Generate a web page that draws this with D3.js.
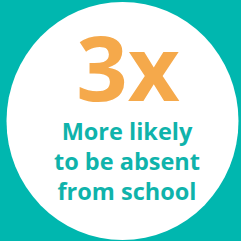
<!DOCTYPE html>
<meta charset="utf-8">
<style>
body { margin: 0; background-color: #00b7af; }
svg { display: block; }
.stat { font: bold 90px "Open Sans", sans-serif; fill: #f5a94b; }
.caption { font: bold 23.5px "Open Sans", sans-serif; fill: #0fb3ab; }
</style>
<body>
<script src="https://d3js.org/d3.v7.min.js"></script>
<script>
  // the figure and the lines under it
  var statValues = ["3x"];
  var captionLines = ["More likely", "to be absent", "from school"];

  var width = 241, height = 241;

  var svg = d3.select("body").append("svg")
      .attr("width", width)
      .attr("height", height);

  // teal backdrop
  svg.append("rect")
      .attr("width", width)
      .attr("height", height)
      .attr("fill", "#00b7af");

  // white disc
  svg.append("ellipse")
      .attr("cx", 122.5)
      .attr("cy", 121)
      .attr("rx", 116)
      .attr("ry", 119)
      .attr("fill", "#ffffff");

  // big number
  svg.selectAll(".stat")
      .data(statValues)
    .enter().append("text")
      .attr("class", "stat")
      .attr("x", 128)
      .attr("y", 101)
      .attr("text-anchor", "middle")
      .text(function(d) { return d; });

  // baselines of the caption lines
  var y = d3.scalePoint()
      .domain(captionLines)
      .range([140, 200]);

  svg.selectAll(".caption")
      .data(captionLines)
    .enter().append("text")
      .attr("class", "caption")
      .attr("x", 127)
      .attr("y", function(d) { return y(d); })
      .attr("text-anchor", "middle")
      .text(function(d) { return d; });
</script>
</body>
